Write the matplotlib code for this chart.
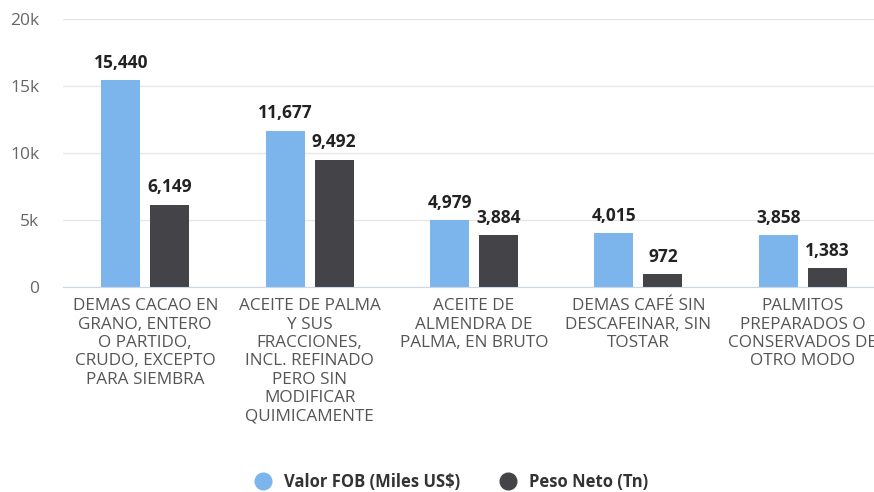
import matplotlib.pyplot as plt
from matplotlib.lines import Line2D
import numpy as np

categories = [
    "DEMAS CACAO EN\nGRANO, ENTERO\nO PARTIDO,\nCRUDO, EXCEPTO\nPARA SIEMBRA",
    "ACEITE DE PALMA\nY SUS\nFRACCIONES,\nINCL. REFINADO\nPERO SIN\nMODIFICAR\nQUIMICAMENTE",
    "ACEITE DE\nALMENDRA DE\nPALMA, EN BRUTO",
    "DEMAS CAFÉ SIN\nDESCAFEINAR, SIN\nTOSTAR",
    "PALMITOS\nPREPARADOS O\nCONSERVADOS DE\nOTRO MODO",
]
valor_fob = [15440, 11677, 4979, 4015, 3858]
peso_neto = [6149, 9492, 3884, 972, 1383]
y_ticks = [0, 5000, 10000, 15000, 20000]
y_tick_labels = ["0", "5k", "10k", "15k", "20k"]

BLUE = "#7cb5ec"
DARK = "#434348"
FONT = ["Open Sans", "DejaVu Sans"]

plt.rcParams["font.family"] = FONT

fig = plt.figure(figsize=(8.74, 4.92), dpi=100)
ax = fig.add_axes([63 / 874, 205 / 492, 822 / 874, 268 / 492])

x = np.arange(len(categories))
w = 0.237
off = 0.149
b1 = ax.bar(x - off, valor_fob, w, color=BLUE, zorder=3)
b2 = ax.bar(x + off, peso_neto, w, color=DARK, zorder=3)

for bars, vals in ((b1, valor_fob), (b2, peso_neto)):
    for rect, v in zip(bars, vals):
        ax.annotate(f"{v:,}", (rect.get_x() + rect.get_width() / 2, v),
                    xytext=(0, 6), textcoords="offset points",
                    ha="center", va="bottom", fontsize=12.5,
                    fontweight="bold", color="#222222")

ax.set_xlim(-0.5, len(categories) - 0.5)
ax.set_ylim(0, 20000)
ax.set_yticks(y_ticks)
ax.set_yticklabels(y_tick_labels, fontsize=12.5, color="#666666")
ax.set_xticks(x)
ax.set_xticklabels(categories, fontsize=12.3, color="#555555", linespacing=1.2)
ax.tick_params(axis="both", length=0)
ax.tick_params(axis="x", pad=8)
ax.tick_params(axis="y", pad=17)
for lbl in ax.get_yticklabels():
    lbl.set_horizontalalignment("right")

ax.grid(axis="y", color="#e6e6e6", linewidth=1, zorder=0)
for side in ("top", "right", "left"):
    ax.spines[side].set_visible(False)
ax.spines["bottom"].set_color("#ccd6eb")
ax.spines["bottom"].set_zorder(4)

handles = [
    Line2D([], [], marker="o", linestyle="none", markersize=12, color=BLUE),
    Line2D([], [], marker="o", linestyle="none", markersize=12, color=DARK),
]
fig.legend(handles, ["Valor FOB (Miles US$)", "Peso Neto (Tn)"],
           loc="center", bbox_to_anchor=(447 / 874, 1 - 482 / 492),
           ncol=2, frameon=False, handletextpad=0.25, columnspacing=1.9,
           labelcolor="#333333", prop={"size": 12, "weight": "bold"},
           borderpad=0.2)

fig.savefig("out.png", dpi=100)
